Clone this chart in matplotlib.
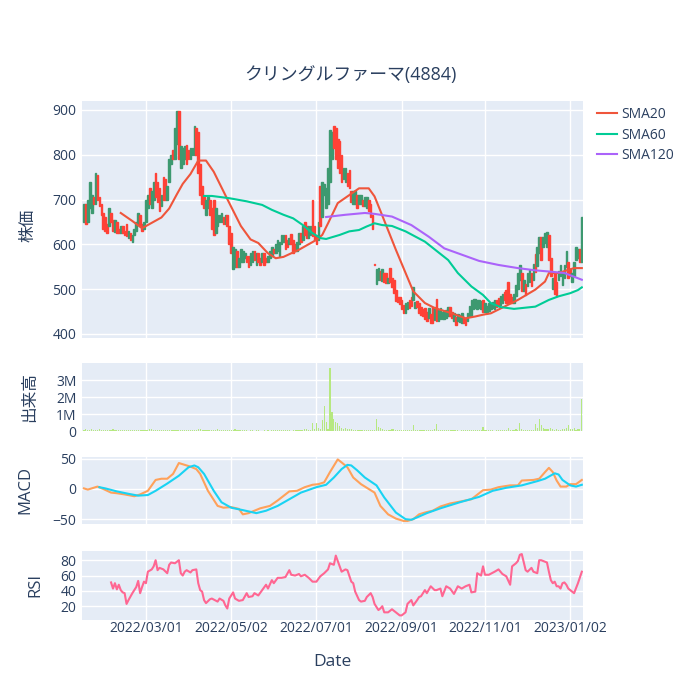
import matplotlib.pyplot as plt
import numpy as np
import pandas as pd

plt.rcParams['font.family'] = ['Open Sans', 'Noto Sans CJK JP', 'DejaVu Sans']

# trading sessions shown (weekends skipped, like rangebreaks)
days = pd.bdate_range('2022-01-14', '2023-01-10')

opens = [
    650, 690, 650, 680, 670, 705, 690, 755, 705, 690,
    670, 660, 645, 640, 670, 655, 628, 650, 635, 625,
    640, 630, 645, 615, 625, 605, 620, 630, 645, 665,
    645, 635, 650, 680, 725, 680, 700, 760, 740, 725,
    685, 750, 745, 700, 740, 780, 810, 790, 825, 897,
    770, 780, 790, 822, 810, 790, 800, 800, 860, 850,
    780, 730, 705, 665, 680, 700, 680, 700, 625, 640,
    650, 650, 660, 645, 665, 640, 625, 545, 550, 585,
    550, 560, 560, 570, 575, 575, 555, 560, 585, 555,
    580, 570, 560, 580, 570, 560, 570, 575, 590, 580,
    585, 575, 600, 605, 620, 610, 600, 622, 610, 600,
    585, 600, 625, 610, 650, 640, 615, 620, 700, 640,
    620, 610, 730, 660, 710, 680, 690, 740, 790, 865,
    860, 835, 830, 800, 745, 740, 760, 765, 720, 690,
    690, 710, 690, 690, 700, 685, 680, 700, 690, 665,
    556, 512, 520, 540, 518, 536, 535, 513, 547, 525,
    520, 498, 483, 483, 475, 464, 447, 455, 475, 483,
    476, 458, 473, 468, 460, 455, 457, 449, 436, 445,
    460, 432, 478, 430, 433, 433, 434, 436, 440, 460,
    450, 430, 438, 428, 427, 425, 438, 434, 429, 440,
    440, 455, 458, 455, 457, 455, 475, 450, 447, 452,
    455, 458, 455, 476, 480, 465, 470, 494, 497, 515,
    490, 483, 470, 485, 500, 520, 535, 495, 512, 506,
    515, 535, 520, 578, 552, 580, 617, 595, 602, 595,
    620, 570, 500, 535, 515, 520, 530, 510, 525, 550,
    560, 545, 515, 530, 565, 570, 590, 560,
]
closes = [
    690, 645, 700, 740, 710, 690, 760, 700, 685, 665,
    635, 630, 625, 680, 650, 630, 655, 625, 625, 640,
    625, 620, 618, 630, 610, 620, 635, 650, 670, 640,
    630, 650, 700, 710, 690, 720, 740, 705, 695, 675,
    710, 700, 700, 730, 790, 800, 790, 860, 897, 790,
    820, 815, 820, 780, 790, 815, 815, 865, 800, 760,
    710, 690, 680, 700, 705, 665, 635, 620, 680, 665,
    665, 670, 645, 665, 640, 600, 580, 595, 590, 550,
    570, 590, 585, 580, 560, 550, 580, 585, 565, 580,
    560, 555, 580, 555, 560, 575, 585, 595, 580, 600,
    610, 605, 620, 620, 590, 595, 615, 600, 580, 585,
    605, 625, 605, 640, 620, 615, 640, 640, 618, 610,
    600, 650, 640, 740, 735, 725, 770, 855, 850, 815,
    790, 770, 760, 740, 770, 770, 730, 725, 695, 720,
    720, 680, 710, 710, 685, 705, 705, 675, 660, 635,
    553, 545, 547, 520, 545, 515, 513, 524, 517, 505,
    492, 474, 472, 466, 455, 447, 468, 472, 458, 462,
    505, 472, 460, 447, 443, 440, 433, 429, 457, 425,
    425, 460, 430, 453, 457, 450, 451, 453, 460, 440,
    435, 446, 421, 445, 443, 446, 425, 421, 446, 462,
    476, 478, 478, 476, 475, 474, 448, 468, 462, 469,
    469, 472, 475, 460, 462, 485, 490, 476, 468, 470,
    470, 469, 490, 510, 535, 555, 495, 520, 488, 535,
    543, 506, 557, 538, 594, 617, 565, 617, 625, 628,
    565, 530, 525, 490, 485, 540, 555, 535, 555, 585,
    525, 530, 535, 560, 595, 590, 560, 660,
]
volume_k = [
    60, 110, 80, 70, 90, 60, 80, 50, 90, 70,
    60, 50, 70, 60, 80, 100, 70, 50, 40, 30,
    40, 30, 30, 40, 30, 30, 40, 30, 80, 40,
    30, 40, 60, 50, 120, 90, 70, 60, 80, 60,
    40, 30, 50, 40, 60, 30, 50, 60, 50, 30,
    40, 30, 50, 40, 30, 40, 50, 60, 80, 100,
    110, 60, 40, 50, 30, 40, 30, 40, 50, 100,
    60, 40, 30, 40, 50, 60, 40, 80, 120, 60,
    40, 30, 30, 40, 30, 20, 30, 30, 20, 30,
    30, 20, 20, 30, 20, 30, 20, 30, 30, 40,
    30, 30, 40, 30, 60, 40, 30, 20, 30, 40,
    60, 30, 50, 80, 90, 110, 70, 60, 450, 120,
    500, 150, 120, 650, 1450, 550, 100, 3700, 1100, 700,
    550, 450, 300, 150, 120, 150, 100, 120, 120, 80,
    60, 50, 40, 60, 30, 40, 50, 30, 40, 60,
    30, 700, 250, 150, 120, 80, 60, 40, 50, 100,
    100, 60, 40, 30, 50, 40, 50, 30, 40, 60,
    350, 80, 60, 40, 50, 30, 40, 30, 40, 50,
    60, 100, 400, 80, 60, 50, 40, 60, 30, 40,
    30, 50, 40, 30, 20, 40, 50, 30, 40, 60,
    30, 40, 30, 40, 60, 50, 250, 60, 40, 30,
    40, 30, 20, 30, 40, 30, 40, 50, 80, 200,
    30, 50, 60, 100, 80, 450, 120, 80, 60, 80,
    60, 50, 80, 400, 200, 700, 350, 150, 120, 100,
    120, 150, 100, 80, 120, 60, 80, 100, 120, 150,
    350, 120, 100, 150, 80, 130, 120, 1900,
]

# moving averages (session number, value)
sma20_day = [19, 25, 30, 35, 40, 44, 48, 51, 55, 59, 63, 67, 74, 81, 86, 90, 95, 99,
             103, 111, 120, 123, 126, 131, 137, 142, 147, 150, 153, 161, 170, 176,
             181, 190, 197, 202, 206, 210, 217, 224, 233, 238, 240, 245, 250, 253, 257]
sma20 = [670, 652, 636, 648, 660, 680, 712, 735, 757, 787, 787, 762, 701, 641, 611, 603,
         580, 569, 572, 588, 610, 621, 647, 692, 710, 725, 725, 707, 675, 588, 495, 469,
         458, 446, 435, 439, 443, 446, 461, 476, 499, 517, 536, 536, 543, 547, 547]
sma60_day = [62, 66, 75, 84, 92, 97, 103, 108, 113, 118, 122, 125, 132, 137, 142, 146,
             150, 154, 159, 166, 176, 188, 193, 200, 206, 210, 215, 222, 233, 240, 245,
             251, 255, 257]
sma60 = [708, 708, 703, 696, 688, 677, 666, 658, 643, 625, 614, 612, 621, 629, 632, 640,
         647, 643, 641, 629, 606, 565, 536, 506, 487, 469, 460, 456, 461, 476, 484,
         491, 498, 504]
sma120_day = [125, 135, 145, 150, 159, 169, 178, 186, 195, 204, 214, 224, 233, 241, 248, 257]
sma120 = [661, 666, 670, 668, 662, 643, 617, 591, 577, 563, 554, 547, 542, 539, 536, 521]

macd_day = [0, 2, 7, 10, 14, 17, 21, 26, 29, 33, 37, 40, 43, 46, 49, 52, 55, 58, 60, 64,
            69, 72, 76, 80, 82, 85, 88, 91, 96, 100, 106, 110, 114, 118, 121, 124, 127,
            131, 133, 136, 139, 143, 147, 150, 153, 157, 161, 165, 167, 170, 173, 176,
            180, 184, 189, 194, 200, 204, 206, 210, 214, 220, 224, 226, 232, 235, 238,
            240, 242, 244, 246, 249, 251, 254, 257]
macd = [1, -1, 4, 0, -6, -7, -9, -12, -9, -3, 15, 17, 17, 25, 43, 40, 37, 33, 25, -3,
        -28, -31, -30, -33, -42, -40, -36, -32, -28, -19, -4, -3, 3, 7, 8, 11, 28,
        49, 44, 36, 19, 8, 0, -6, -28, -42, -49, -53, -53, -50, -42, -39,
        -36, -29, -24, -21, -17, -7, -2, -1, 3, 6, 6, 14, 15, 17, 28,
        35, 28, 14, 4, 4, 8, 8, 15]
signal_day = [8, 11, 17, 23, 28, 33, 37, 43, 49, 54, 57, 59, 62, 67, 71, 76, 82, 89, 94,
              100, 106, 112, 120, 125, 129, 133, 136, 138, 141, 145, 151, 155, 161, 166,
              169, 172, 177, 184, 194, 204, 211, 218, 226, 234, 238, 243, 245, 247, 251,
              254, 257]
signal = [3, 1, -4, -8, -11, -10, -3, 9, 22, 36, 39, 36, 25, -3, -22, -31, -35, -40, -36,
          -28, -17, -6, 3, 7, 19, 33, 40, 39, 31, 19, 6, -14, -39, -50,
          -51, -47, -40, -32, -22, -13, -3, 2, 6, 13, 17, 26, 24, 15, 6,
          4, 7]

rsi_day = [14, 15, 16, 17, 18, 19, 20, 21, 22, 23, 25, 27, 28, 29, 30, 31, 32, 33, 35, 36,
           37, 38, 39, 41, 43, 44, 45, 47, 49, 50, 51, 52, 53, 55, 56, 58, 59, 60, 61, 62,
           63, 65, 66, 69, 70, 72, 73, 74, 75, 76, 77, 78, 80, 82, 84, 85, 87, 88, 90, 92,
           94, 95, 97, 98, 100, 102, 104, 106, 107, 109, 111, 112, 114, 116, 118, 120, 122,
           124, 126, 127, 129, 130, 132, 133, 135, 136, 138, 139, 140, 142, 143, 145, 146,
           148, 149, 150, 152, 153, 154, 155, 157, 159, 161, 163, 164, 166, 167, 169, 170,
           172, 173, 174, 176, 177, 179, 181, 182, 184, 185, 187, 189, 191, 193, 195, 197,
           199, 200, 202, 203, 205, 206, 207, 209, 212, 214, 216, 218, 220, 221, 223, 224,
           225, 226, 228, 229, 231, 232, 234, 235, 236, 239, 240, 241, 242, 243, 244, 245,
           246, 247, 248, 249, 250, 251, 252, 253, 255, 257]
rsi = [51, 43, 50, 42, 48, 41, 38, 37, 23, 28, 37, 45, 53, 37, 45, 52, 50, 65, 68, 72,
       80, 67, 70, 68, 63, 74, 77, 76, 80, 63, 60, 65, 67, 64, 67, 68, 50, 41, 39, 28,
       24, 29, 30, 26, 30, 27, 21, 17, 30, 34, 38, 30, 27, 28, 37, 32, 33, 37, 34, 41,
       48, 43, 54, 50, 57, 57, 58, 67, 61, 60, 62, 59, 61, 57, 52, 52, 59,
       63, 68, 76, 74, 86, 72, 65, 68, 67, 52, 50, 39, 28, 26, 27, 32,
       37, 32, 23, 15, 17, 20, 12, 12, 16, 12, 8, 8, 12, 23, 28, 21,
       28, 32, 33, 41, 37, 46, 41, 41, 43, 33, 46, 43, 36, 46, 43, 46,
       48, 38, 39, 63, 60, 72, 61, 61, 65, 68, 62, 59, 48, 72, 76, 79,
       87, 88, 67, 65, 70, 65, 63, 80, 80, 77, 65, 54, 50, 52, 46, 46,
       43, 50, 51, 48, 43, 41, 39, 37, 50, 65]

tick_dates = ['2022-03-01', '2022-05-02', '2022-07-01', '2022-09-01', '2022-11-01', '2023-01-02']
tick_labels = ['2022/03/01', '2022/05/02', '2022/07/01', '2022/09/01', '2022/11/01', '2023/01/02']

bg = '#E5ECF6'
txt = '#2a3f5f'

x = np.arange(len(days))
o = np.array(opens)
c = np.array(closes)
up = c >= o
ticks = [days.get_loc(pd.Timestamp(d)) for d in tick_dates]

fig = plt.figure(figsize=(7, 7), dpi=100)


def panel(top, bottom):
    ax = fig.add_axes([82 / 700, 1 - bottom / 700, 501 / 700, (bottom - top) / 700])
    ax.set_facecolor(bg)
    for s in ax.spines.values():
        s.set_visible(False)
    ax.grid(True, color='white', linewidth=1)
    ax.set_axisbelow(True)
    ax.tick_params(length=0, labelsize=10, labelcolor=txt, pad=4)
    ax.set_xticks(ticks)
    ax.set_xticklabels([])
    ax.set_xlim(-1, len(days) - 0.4)
    return ax


ax1 = panel(100.5, 338)
ax2 = panel(363, 431)
ax3 = panel(457, 524)
ax4 = panel(551, 620)

# candles
cols = np.where(up, '#3D9970', '#FF4136')
ax1.bar(x, np.abs(c - o), bottom=np.minimum(o, c), width=0.85, color=cols,
        edgecolor=cols, linewidth=1.0, zorder=2)
ax1.plot(sma20_day, sma20, color='#EF553B', lw=1.5, label='SMA20', zorder=3)
ax1.plot(sma60_day, sma60, color='#00CC96', lw=1.5, label='SMA60', zorder=3)
ax1.plot(sma120_day, sma120, color='#AB63FA', lw=1.5, label='SMA120', zorder=3)
ax1.set_ylim(391, 921)
ax1.set_yticks([400, 500, 600, 700, 800, 900])

# volume
ax2.bar(x, np.array(volume_k) * 1000, width=0.6, color='#B6E880', zorder=2)
ax2.set_ylim(0, 4.0e6)
ax2.set_yticks([0, 1e6, 2e6, 3e6])
ax2.set_yticklabels(['0', '1M', '2M', '3M'])

# macd
ax3.plot(macd_day, macd, color='#FFA15A', lw=1.5, zorder=3)
ax3.plot(signal_day, signal, color='#19D3F3', lw=1.5, zorder=3)
ax3.set_ylim(-58, 53)
ax3.set_yticks([-50, 0, 50])

# rsi
ax4.plot(rsi_day, rsi, color='#FF6692', lw=1.5, zorder=3)
ax4.set_ylim(2, 92)
ax4.set_yticks([20, 40, 60, 80])
ax4.set_xticklabels(tick_labels)
ax4.tick_params(axis='x', pad=1)

fig.text(0.5, 1 - 75 / 700, 'クリングルファーマ(4884)', ha='center', va='center',
         fontsize=12.9, color=txt)
fig.text(28 / 700, 1 - 225 / 700, '株価', rotation=90, ha='center', va='center',
         fontsize=12, color=txt)
fig.text(30 / 700, 1 - 397 / 700, '出来高', rotation=90, ha='center', va='center',
         fontsize=12, color=txt)
fig.text(25 / 700, 1 - 490 / 700, 'MACD', rotation=90, ha='center', va='center',
         fontsize=12, color=txt)
fig.text(35 / 700, 1 - 585 / 700, 'RSI', rotation=90, ha='center', va='center',
         fontsize=12, color=txt)
fig.text(332 / 700, 1 - 662 / 700, 'Date', ha='center', va='center',
         fontsize=12.5, color=txt)

leg = fig.legend(handles=ax1.get_lines(), loc='upper left',
                 bbox_to_anchor=(597 / 700, 1 - 107 / 700), frameon=False,
                 borderpad=0, borderaxespad=0, fontsize=10, handlelength=1.45,
                 handletextpad=0.3, labelspacing=0.4)
for t in leg.get_texts():
    t.set_color(txt)

fig.savefig('out.png', dpi=100)
